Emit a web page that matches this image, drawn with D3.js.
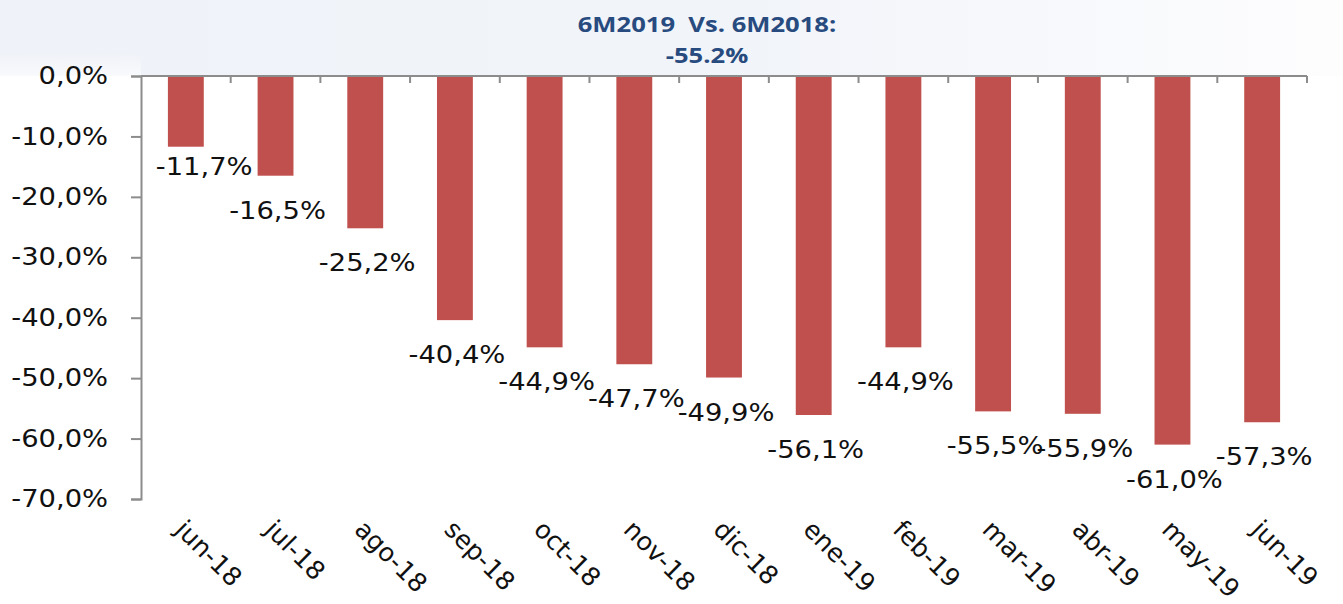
<!DOCTYPE html>
<html>
<head>
<meta charset="utf-8">
<script src="https://cdn.jsdelivr.net/npm/d3@7"></script>
<style>
    body { margin: 0; background: #ffffff; }
    svg { display: block; }
</style>
</head>
<body>
<div id="chart"></div>
<script>
// Data
var months = ["jun-18", "jul-18", "ago-18", "sep-18", "oct-18", "nov-18", "dic-18",
              "ene-19", "feb-19", "mar-19", "abr-19", "may-19", "jun-19"];
var changes = [-11.7, -16.5, -25.2, -40.4, -44.9, -47.7, -49.9,
               -56.1, -44.9, -55.5, -55.9, -61.0, -57.3];
var yTicks = [0, -10, -20, -30, -40, -50, -60, -70];
var titleLines = ["6M2019  Vs. 6M2018:", "-55.2%"];

(function() {
    var width = 1343, height = 604;
    var plot = { left: 141, right: 1307, top: 76, bottom: 499 };
    var sx = 1.14;   // horizontal stretch of the source lettering
    var font = "'DejaVu Sans', Verdana, sans-serif";

    var svg = d3.select("#chart")
        .append("svg")
        .attr("width", width)
        .attr("height", height);

    // faint tinted band behind the title
    var grad = svg.append("defs").append("linearGradient")
        .attr("id", "topband").attr("x1", "0").attr("x2", "1");
    grad.append("stop").attr("offset", "0").attr("stop-color", "#eff2f8");
    grad.append("stop").attr("offset", "0.55").attr("stop-color", "#f1f4f9");
    grad.append("stop").attr("offset", "1").attr("stop-color", "#fdfdfe");
    var vgrad = svg.select("defs").append("linearGradient")
        .attr("id", "topfade").attr("x1", "0").attr("x2", "0").attr("y1", "0").attr("y2", "1");
    vgrad.append("stop").attr("offset", "0").attr("stop-color", "#fff").attr("stop-opacity", 0);
    vgrad.append("stop").attr("offset", "0.7").attr("stop-color", "#fff").attr("stop-opacity", 0);
    vgrad.append("stop").attr("offset", "1").attr("stop-color", "#fff").attr("stop-opacity", 0.6);
    svg.append("rect")
        .attr("x", 0).attr("y", 0)
        .attr("width", width).attr("height", plot.top)
        .attr("fill", "url(#topband)");
    svg.append("rect")
        .attr("x", 0).attr("y", 0)
        .attr("width", plot.left).attr("height", plot.top)
        .attr("fill", "url(#topfade)");

    // Scales
    var x = d3.scaleBand()
        .domain(months)
        .range([plot.left, plot.right])
        .paddingInner(0.6)
        .paddingOuter(0.3);
    var y = d3.scaleLinear()
        .domain([-70, 0])
        .range([plot.bottom, plot.top]);

    var fmt = function(v) { return v.toFixed(1).replace(".", ",") + "%"; };

    // Bars
    svg.selectAll(".bar")
        .data(changes)
        .enter().append("rect")
        .attr("class", "bar")
        .attr("x", function(d, i) { return x(months[i]); })
        .attr("y", y(0))
        .attr("width", x.bandwidth())
        .attr("height", function(d) { return y(d) - y(0); })
        .attr("fill", "#c0504d");

    // Y axis
    var yAxis = svg.append("g")
        .attr("transform", "translate(" + plot.left + ",0)")
        .call(d3.axisLeft(y).tickValues(yTicks).tickSize(10).tickFormat(fmt));
    yAxis.select(".domain").attr("stroke", "#8c8c8c").attr("stroke-width", 2);
    yAxis.selectAll(".tick line").attr("stroke", "#8c8c8c").attr("stroke-width", 2);
    yAxis.selectAll(".tick text")
        .attr("x", -33 / sx)
        .attr("transform", "scale(" + sx + ",1)")
        .style("font-family", font)
        .style("font-size", "24px")
        .attr("fill", "#111");

    // X axis line at zero with ticks between categories
    var xAxis = svg.append("g");
    xAxis.append("line")
        .attr("x1", plot.left).attr("x2", plot.right)
        .attr("y1", y(0)).attr("y2", y(0))
        .attr("stroke", "#8c8c8c").attr("stroke-width", 2);
    var bounds = months.map(function(m) { return x(m) + x.bandwidth() / 2 + x.step() / 2; });
    xAxis.selectAll(".xtick")
        .data(bounds)
        .enter().append("line")
        .attr("class", "xtick")
        .attr("x1", function(d) { return d; })
        .attr("x2", function(d) { return d; })
        .attr("y1", y(0)).attr("y2", y(0) + 7)
        .attr("stroke", "#8c8c8c").attr("stroke-width", 2);

    // Category labels, rotated
    svg.selectAll(".month")
        .data(months)
        .enter().append("text")
        .attr("class", "month")
        .attr("transform", function(d) {
            return "translate(" + (x(d) + x.bandwidth() / 2 - 12) + ",531) rotate(45)";
        })
        .style("font-family", font)
        .style("font-size", "25.5px")
        .attr("fill", "#111")
        .text(function(d) { return d; });

    // Value labels below the bar ends
    var labels = svg.selectAll(".value")
        .data(changes)
        .enter().append("g")
        .attr("class", "value");
    labels.append("text")
        .attr("text-anchor", "middle")
        .attr("transform", "scale(" + sx + ",1)")
        .style("font-family", font)
        .style("font-size", "24px")
        .attr("fill", "#111")
        .text(fmt);
    labels.attr("transform", function(d, i) {
        var w = this.getBBox().width * sx;
        var cx = x(months[i]) + x.bandwidth() / 2 + 2;
        var dy = 43;
        if (cx - w / 2 < plot.left + 8) { cx = plot.left + 8 + w / 2; dy = 28; }
        cx = Math.min(cx, width - 4 - w / 2);
        return "translate(" + cx + "," + (y(d) + dy) + ")";
    });

    // Title
    svg.selectAll(".title")
        .data(titleLines)
        .enter().append("text")
        .attr("class", "title")
        .attr("transform", function(d, i) {
            return "translate(707," + (32 + i * 31) + ") scale(1.22,1)";
        })
        .attr("text-anchor", "middle")
        .style("white-space", "pre")
        .style("font-family", "'Open Sans', sans-serif")
        .style("font-weight", "bold")
        .style("font-size", "21px")
        .attr("fill", "#284b7f")
        .text(function(d) { return d; });
})();
</script>
</body>
</html>
